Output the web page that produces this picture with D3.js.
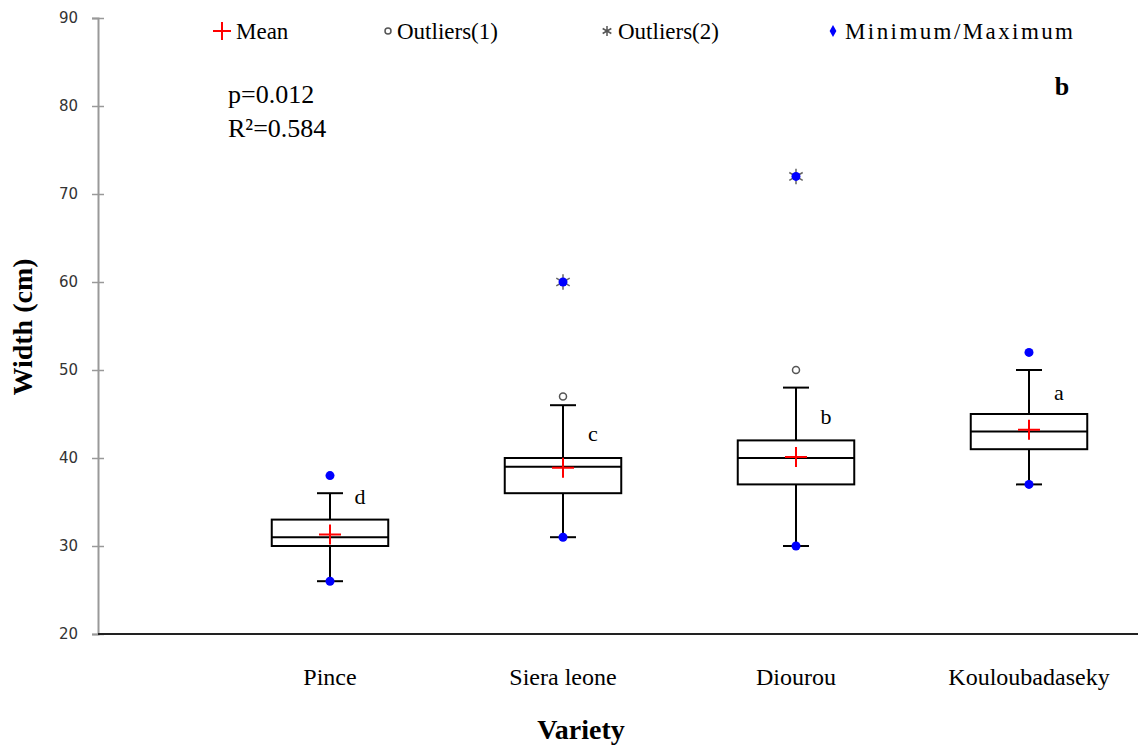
<!DOCTYPE html>
<html>
<head>
<meta charset="utf-8">
<script src="https://cdn.jsdelivr.net/npm/d3@7"></script>
<style>
  body { margin: 0; background: #fff; }
  svg { display: block; }
</style>
</head>
<body>
<script>
var categories = ["Pince", "Siera leone", "Diourou", "Kouloubadaseky"];
var q1 = [30, 36, 37, 41];
var medians = [31, 39, 40, 43];
var q3 = [33, 40, 42, 45];
var whiskerLow = [26, 31, 30, 37];
var whiskerHigh = [36, 46, 48, 50];
var means = [31.3, 38.9, 40.1, 43.2];
var minValues = [26, 31, 30, 37];
var maxValues = [38, 60, 72, 52];
var outliers1 = [[], [47], [50], []];
var outliers2 = [[], [60], [72], []];
var letters = ["d", "c", "b", "a"];
var letterValues = [35.6, 42.8, 44.7, 47.5];
var yTicks = [20, 30, 40, 50, 60, 70, 80, 90];

var SVG_WIDTH = 1138, SVG_HEIGHT = 749;
var MARGIN = { LEFT: 98, TOP: 18, BOTTOM: 115 };
var SERIF = "Liberation Serif";

var svg = d3.select("body").append("svg")
  .attr("width", SVG_WIDTH).attr("height", SVG_HEIGHT);

var data = categories.map(function (c, i) {
  return {
    name: c, q1: q1[i], median: medians[i], q3: q3[i],
    lo: whiskerLow[i], hi: whiskerHigh[i], mean: means[i],
    min: minValues[i], max: maxValues[i],
    out1: outliers1[i], out2: outliers2[i],
    letter: letters[i], letterY: letterValues[i]
  };
});

var yScale = d3.scaleLinear()
  .domain([20, 90])
  .range([SVG_HEIGHT - MARGIN.BOTTOM, MARGIN.TOP]);

var xScale = d3.scaleBand()
  .domain(categories)
  .range([213.5, 1145.5])
  .paddingInner(0);

var boxW = xScale.bandwidth() * 0.5;
var capW = 26;
function cx(d) { return xScale(d.name) + xScale.bandwidth() / 2; }

// y axis (gray, ticks crossing the line)
var yAxis = svg.append("g")
  .attr("transform", "translate(" + MARGIN.LEFT + ",0)")
  .call(d3.axisLeft(yScale).tickValues(yTicks).tickSize(6).tickPadding(14));
yAxis.select(".domain").attr("stroke", "#999").attr("stroke-width", 2);
yAxis.selectAll(".tick line").attr("stroke", "#999").attr("stroke-width", 1.5).attr("x2", 6).attr("x1", -6);
yAxis.selectAll(".tick text")
  .style("font-family", "DejaVu Sans")
  .style("font-size", "15px")
  .attr("fill", "#333");

// x axis line and category labels
svg.append("line")
  .attr("x1", MARGIN.LEFT).attr("x2", SVG_WIDTH)
  .attr("y1", yScale(20)).attr("y2", yScale(20))
  .attr("stroke", "#222").attr("stroke-width", 2);
svg.selectAll(".xlabel").data(categories).enter().append("text")
  .attr("class", "xlabel")
  .attr("x", function (c) { return xScale(c) + xScale.bandwidth() / 2; })
  .attr("y", 685)
  .attr("text-anchor", "middle")
  .attr("font-family", SERIF)
  .attr("font-size", 24)
  .attr("fill", "#000")
  .text(function (c) { return c; });

// axis titles
svg.append("text")
  .attr("font-family", SERIF)
  .attr("transform", "translate(32,327) rotate(-90)")
  .attr("text-anchor", "middle")
  .attr("font-size", 28).attr("font-weight", "bold")
  .text("Width (cm)");

svg.append("text")
  .attr("font-family", SERIF)
  .attr("x", 581).attr("y", 739)
  .attr("text-anchor", "middle")
  .attr("font-size", 28).attr("font-weight", "bold")
  .text("Variety");

// boxes
var g = svg.selectAll(".box").data(data).enter().append("g").attr("class", "box");

g.append("line")
  .attr("x1", cx).attr("x2", cx)
  .attr("y1", function (d) { return yScale(d.lo); })
  .attr("y2", function (d) { return yScale(d.hi); })
  .attr("stroke", "#000").attr("stroke-width", 2);
g.selectAll(".cap").data(function (d) { return [d.lo, d.hi].map(function (v) { return { x: cx(d), v: v }; }); })
  .enter().append("line")
  .attr("x1", function (d) { return d.x - capW / 2; })
  .attr("x2", function (d) { return d.x + capW / 2; })
  .attr("y1", function (d) { return yScale(d.v); })
  .attr("y2", function (d) { return yScale(d.v); })
  .attr("stroke", "#000").attr("stroke-width", 2);

g.append("rect")
  .attr("x", function (d) { return cx(d) - boxW / 2; })
  .attr("y", function (d) { return yScale(d.q3); })
  .attr("width", boxW)
  .attr("height", function (d) { return yScale(d.q1) - yScale(d.q3); })
  .attr("fill", "#fff").attr("stroke", "#000").attr("stroke-width", 2);

g.append("line")
  .attr("x1", function (d) { return cx(d) - boxW / 2; })
  .attr("x2", function (d) { return cx(d) + boxW / 2; })
  .attr("y1", function (d) { return yScale(d.median); })
  .attr("y2", function (d) { return yScale(d.median); })
  .attr("stroke", "#000").attr("stroke-width", 2);

// mean cross
g.append("path")
  .attr("d", function (d) {
    var x = cx(d), y = yScale(d.mean);
    return "M" + (x - 11) + "," + y + "H" + (x + 11) + "M" + x + "," + (y - 10) + "V" + (y + 10);
  })
  .attr("stroke", "red").attr("stroke-width", 2);

// outliers (1): open circles
g.selectAll(".out1").data(function (d) { return d.out1.map(function (v) { return { x: cx(d), v: v }; }); })
  .enter().append("circle")
  .attr("cx", function (d) { return d.x; })
  .attr("cy", function (d) { return yScale(d.v); })
  .attr("r", 3.5)
  .attr("fill", "#fff").attr("stroke", "#555").attr("stroke-width", 1.5);

// outliers (2): asterisks
var star = d3.symbol().type(d3.symbolAsterisk).size(170);
g.selectAll(".out2").data(function (d) { return d.out2.map(function (v) { return { x: cx(d), v: v }; }); })
  .enter().append("path")
  .attr("d", star)
  .attr("transform", function (d) { return "translate(" + d.x + "," + yScale(d.v) + ")"; })
  .attr("stroke", "#666").attr("stroke-width", 1.5);

// min / max
g.selectAll(".mm").data(function (d) { return [d.min, d.max].map(function (v) { return { x: cx(d), v: v }; }); })
  .enter().append("circle")
  .attr("cx", function (d) { return d.x; })
  .attr("cy", function (d) { return yScale(d.v); })
  .attr("r", 4.5)
  .attr("fill", "#0000ff");

// group letters
g.append("text")
  .attr("font-family", SERIF)
  .attr("x", function (d) { return cx(d) + 30; })
  .attr("y", function (d) { return yScale(d.letterY); })
  .attr("dy", "0.35em")
  .attr("text-anchor", "middle")
  .attr("font-size", 22)
  .text(function (d) { return d.letter; });

// stats text
svg.append("text").attr("font-family", SERIF)
  .attr("x", 228).attr("y", 103).attr("font-size", 26)
  .text("p=0.012");
svg.append("text").attr("font-family", SERIF)
  .attr("x", 228).attr("y", 137).attr("font-size", 26)
  .text("R²=0.584");

svg.append("text").attr("font-family", SERIF)
  .attr("x", 1062).attr("y", 95).attr("text-anchor", "middle")
  .attr("font-size", 26).attr("font-weight", "bold")
  .text("b");

// legend
var legY = 31;
var legend = svg.append("g").attr("font-family", SERIF).attr("font-size", 23);
legend.append("path")
  .attr("d", "M213," + legY + "H231M222," + (legY - 9) + "V" + (legY + 9))
  .attr("stroke", "red").attr("stroke-width", 2);
legend.append("text").attr("x", 236).attr("y", legY + 8).text("Mean");

legend.append("circle").attr("cx", 388).attr("cy", legY).attr("r", 3)
  .attr("fill", "#fff").attr("stroke", "#555").attr("stroke-width", 1.5);
legend.append("text").attr("x", 397).attr("y", legY + 8).text("Outliers(1)");

legend.append("path").attr("d", d3.symbol().type(d3.symbolAsterisk).size(70))
  .attr("transform", "translate(607," + legY + ")")
  .attr("stroke", "#555").attr("stroke-width", 1.5);
legend.append("text").attr("x", 618).attr("y", legY + 8).text("Outliers(2)");

legend.append("path").attr("d", d3.symbol().type(d3.symbolDiamond).size(40))
  .attr("transform", "translate(833," + legY + ")")
  .attr("fill", "#0000ff");
legend.append("text").attr("x", 845).attr("y", legY + 8)
  .attr("textLength", 228)
  .text("Minimum/Maximum");
</script>
</body>
</html>
